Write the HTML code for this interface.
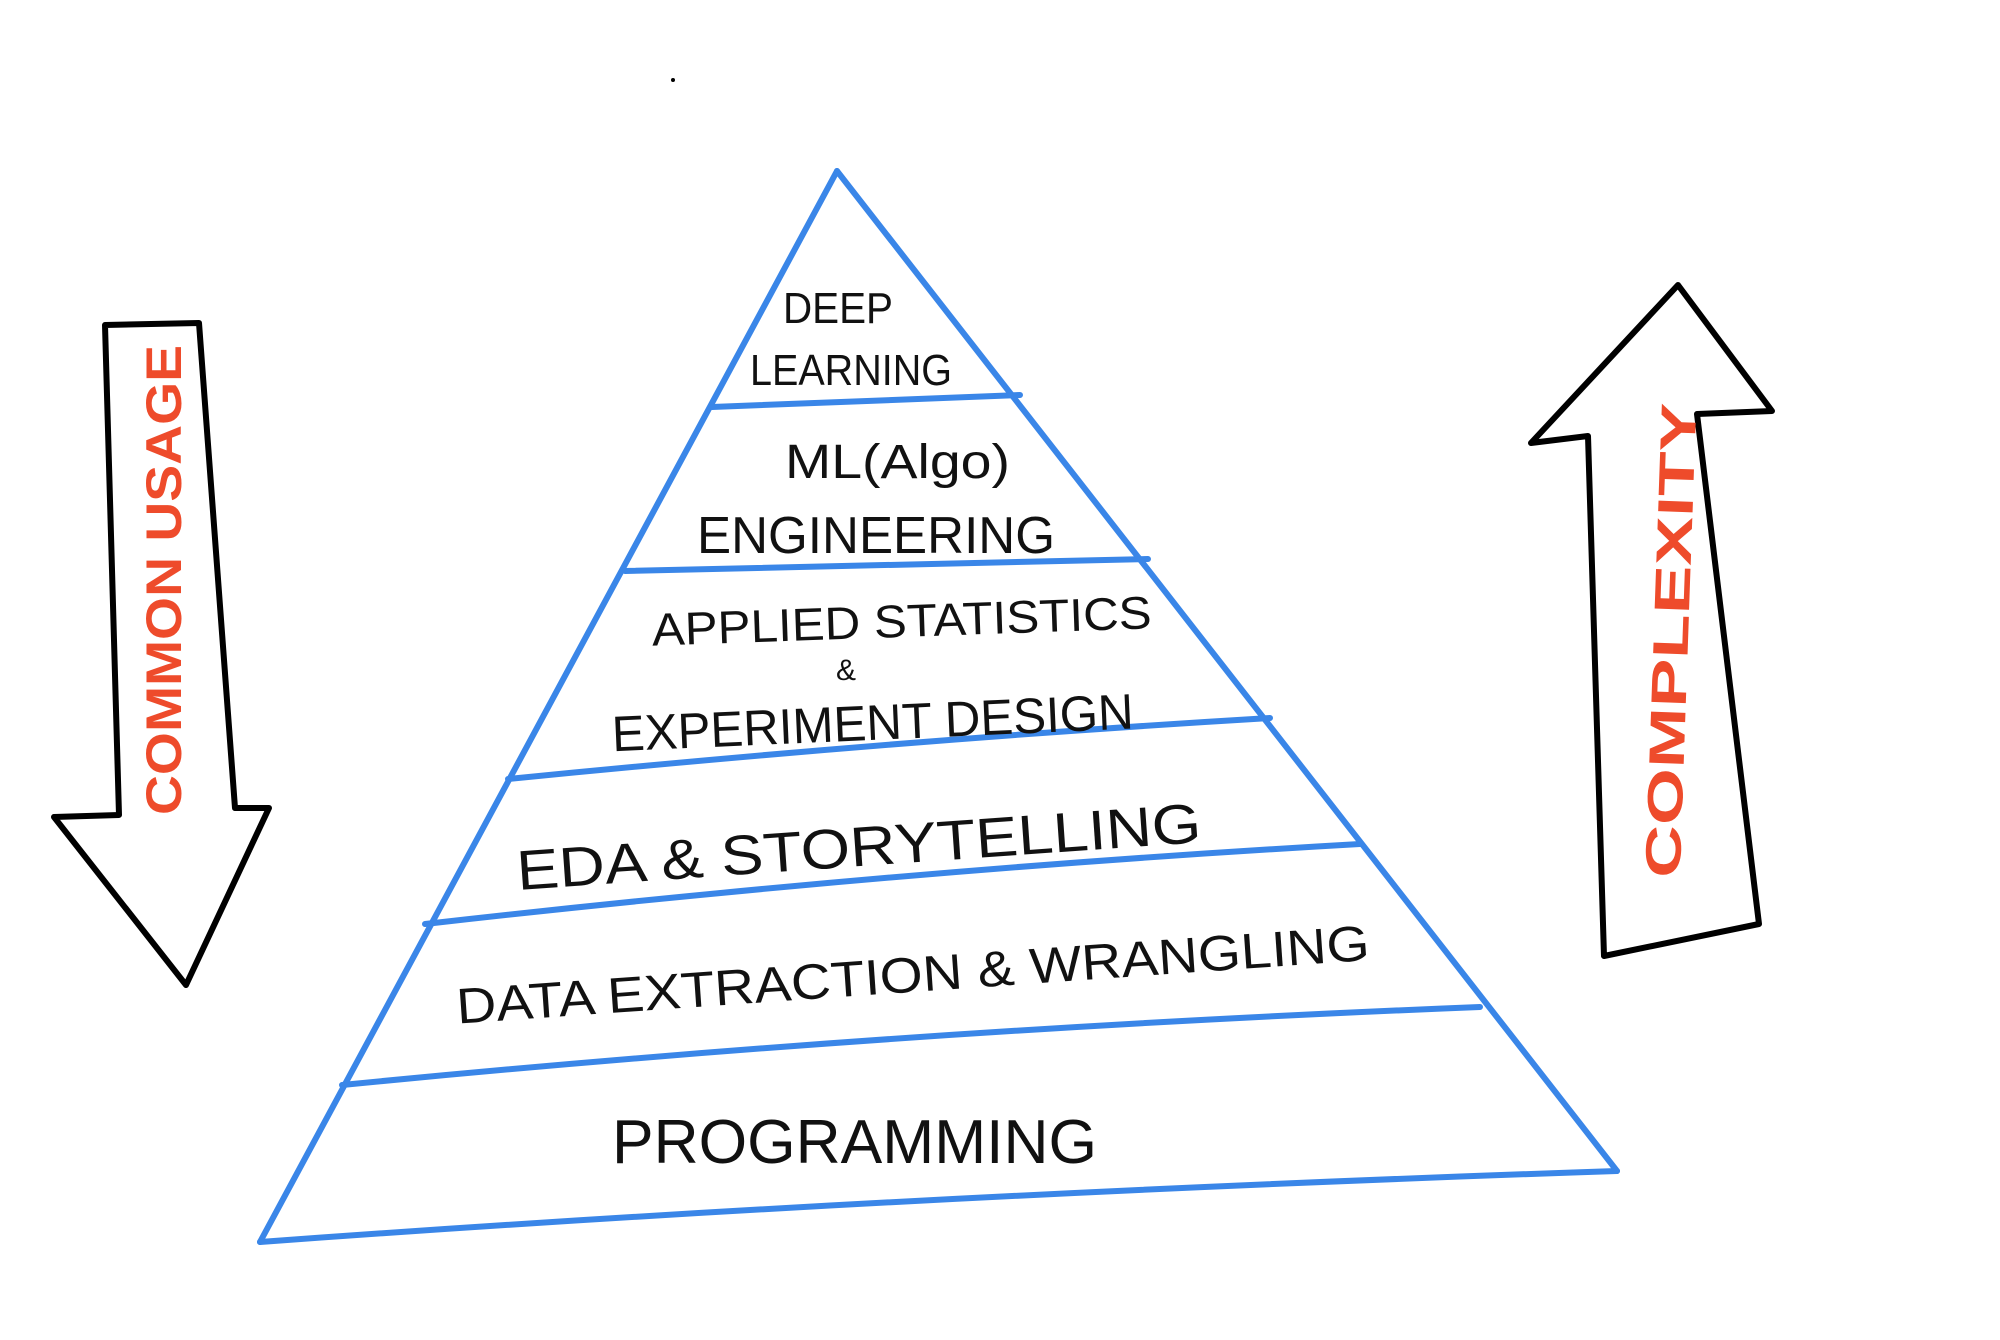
<!DOCTYPE html>
<html><head><meta charset="utf-8"><style>
html,body{margin:0;padding:0;background:#fff;}
svg{display:block;}
text{font-family:"Liberation Sans",sans-serif;}
</style></head><body>
<svg width="2000" height="1340" viewBox="0 0 2000 1340" xmlns="http://www.w3.org/2000/svg">
<rect width="2000" height="1340" fill="#fff"/>
<g fill="none" stroke="#3a86e8" stroke-width="6" stroke-linejoin="round" stroke-linecap="round">
<path d="M837,171 L1617,1171"/>
<path d="M837,171 L260,1242"/>
<path d="M260,1242 Q900,1195 1617,1171"/>
<path d="M712,407 L1020,395"/>
<path d="M625,571 L1148,559"/>
<path d="M508,779 Q900,740 1270,718"/>
<path d="M425,924 Q900,870 1360,844"/>
<path d="M342,1085 Q900,1030 1480,1007"/>
</g>
<g fill="none" stroke="#000" stroke-width="6" stroke-linejoin="round">
<path d="M105,325 L199,323 L235,808 L269,808 L186,985 L54,817 L119,815 Z"/>
<path d="M1678,285 L1772,411 L1697,414 L1759,924 L1604,956 L1588,436 L1531,443 Z"/>
</g>
<g fill="#111" font-size="44">
<text x="783" y="323" textLength="110" lengthAdjust="spacingAndGlyphs">DEEP</text>
<text x="750" y="385" textLength="202" lengthAdjust="spacingAndGlyphs">LEARNING</text>
<text x="785" y="478" font-size="48" textLength="225" lengthAdjust="spacingAndGlyphs">ML(Algo)</text>
<text x="697" y="553" font-size="52" textLength="358" lengthAdjust="spacingAndGlyphs">ENGINEERING</text>
<text x="652" y="637" font-size="46" textLength="500" lengthAdjust="spacingAndGlyphs" transform="rotate(-2 900 630)">APPLIED STATISTICS</text>
<text x="836" y="680" font-size="30">&amp;</text>
<text x="612" y="740" font-size="50" textLength="522" lengthAdjust="spacingAndGlyphs" transform="rotate(-2.5 870 730)">EXPERIMENT  DESIGN</text>
<text x="516" y="866" font-size="56" textLength="686" lengthAdjust="spacingAndGlyphs" transform="rotate(-4 860 850)">EDA &amp; STORYTELLING</text>
<text x="455" y="992" font-size="50" textLength="915" lengthAdjust="spacingAndGlyphs" transform="rotate(-4 910 970)">DATA EXTRACTION &amp; WRANGLING</text>
<text x="612" y="1163" font-size="62" textLength="485" lengthAdjust="spacingAndGlyphs">PROGRAMMING</text>
</g>
<g fill="#ee4b2b" font-size="50" font-weight="bold">
<text x="0" y="0" text-anchor="middle" textLength="470" lengthAdjust="spacingAndGlyphs" transform="translate(181,580) rotate(-90)">COMMON  USAGE</text>
<text x="0" y="0" text-anchor="middle" textLength="475" lengthAdjust="spacingAndGlyphs" transform="translate(1688,641) rotate(-88)">COMPLEXITY</text>
</g>
<circle cx="673" cy="80" r="2" fill="#000"/>
</svg>
</body></html>
